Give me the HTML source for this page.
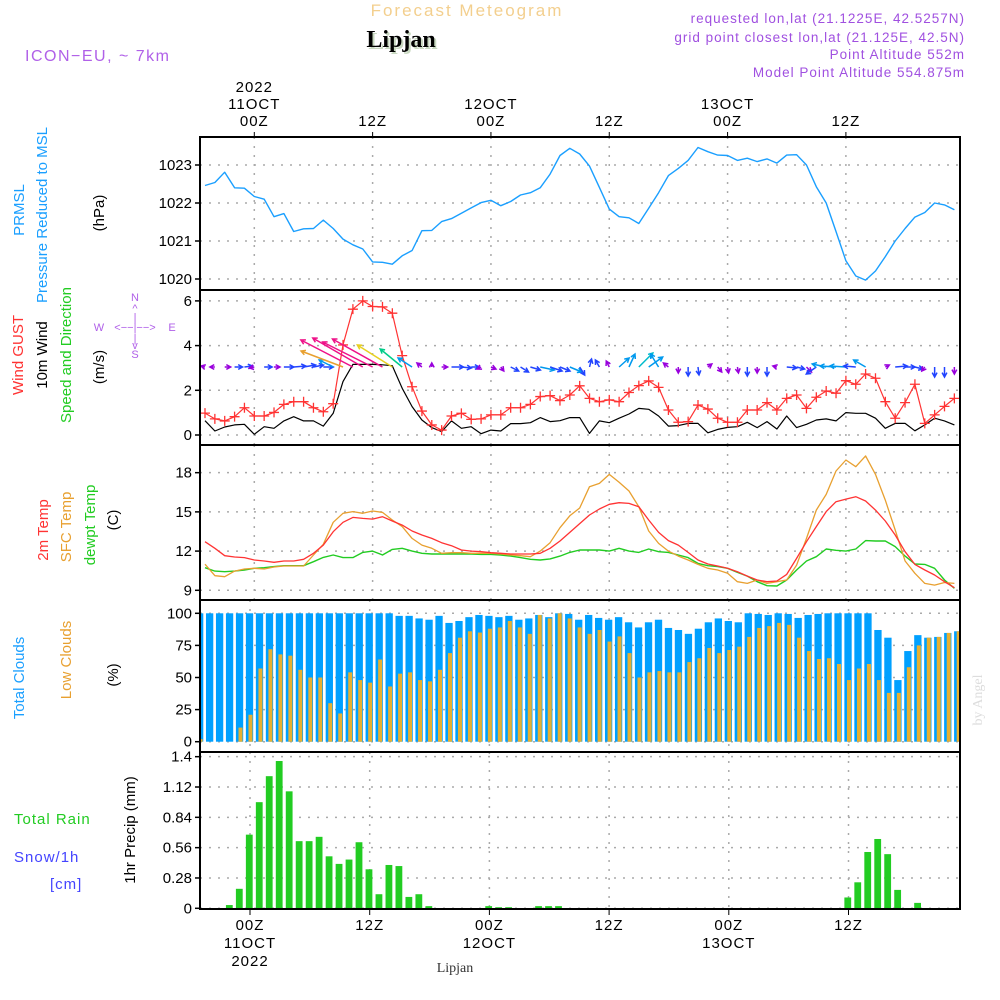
<!DOCTYPE html>
<html><head><meta charset="utf-8"><title>Forecast Meteogram Lipjan</title>
<style>
html,body{margin:0;padding:0;background:#fff;}
svg{display:block;font-family:"Liberation Sans",sans-serif;}
</style></head>
<body>
<svg id="chart" xmlns="http://www.w3.org/2000/svg" width="1000" height="1000" viewBox="0 0 1000 1000">
<rect x="0" y="0" width="1000" height="1000" fill="#fff"/>
<text x="467" y="16" text-anchor="middle" font-size="17" fill="#f3cf8e" letter-spacing="2">Forecast Meteogram</text>
<text x="403" y="49" text-anchor="middle" font-family="Liberation Serif,serif" font-weight="bold" font-size="24" fill="#c8d8c0">Lipjan</text>
<text x="401" y="47" text-anchor="middle" font-family="Liberation Serif,serif" font-weight="bold" font-size="24" fill="#000">Lipjan</text>
<text x="25" y="61" font-size="16" fill="#b060e8" letter-spacing="1.5">ICON−EU, ~ 7km</text>
<g font-size="13.5" fill="#a050e0" text-anchor="end" letter-spacing="1">
<text x="965" y="23">requested lon,lat (21.1225E, 42.5257N)</text>
<text x="965" y="42">grid point closest lon,lat (21.125E, 42.5N)</text>
<text x="965" y="59">Point Altitude 552m</text>
<text x="965" y="77">Model Point Altitude 554.875m</text>
</g>
<g font-size="15">
<text transform="translate(24,210) rotate(-90)" text-anchor="middle" fill="#1a9fff">PRMSL</text>
<text transform="translate(47,215) rotate(-90)" text-anchor="middle" fill="#1a9fff">Pressure Reduced to MSL</text>
<text transform="translate(104,213) rotate(-90)" text-anchor="middle" fill="#000">(hPa)</text>
<text transform="translate(23,355) rotate(-90)" text-anchor="middle" fill="#ff3333">Wind GUST</text>
<text transform="translate(47,355) rotate(-90)" text-anchor="middle" fill="#000">10m Wind</text>
<text transform="translate(71,355) rotate(-90)" text-anchor="middle" fill="#22cc22">Speed and Direction</text>
<text transform="translate(104,367) rotate(-90)" text-anchor="middle" fill="#000">(m/s)</text>
<text transform="translate(48,530) rotate(-90)" text-anchor="middle" fill="#ff3333">2m Temp</text>
<text transform="translate(71,527) rotate(-90)" text-anchor="middle" fill="#e8a030">SFC Temp</text>
<text transform="translate(95,525) rotate(-90)" text-anchor="middle" fill="#22cc22">dewpt Temp</text>
<text transform="translate(118,520) rotate(-90)" text-anchor="middle" fill="#000">(C)</text>
<text transform="translate(24,678) rotate(-90)" text-anchor="middle" fill="#1a9fff">Total Clouds</text>
<text transform="translate(71,660) rotate(-90)" text-anchor="middle" fill="#e8a030">Low Clouds</text>
<text transform="translate(118,675) rotate(-90)" text-anchor="middle" fill="#000">(%)</text>
<text transform="translate(135,830) rotate(-90)" text-anchor="middle" fill="#000">1hr Precip (mm)</text>
</g>
<g font-size="15" letter-spacing="1">
<text x="14" y="824" fill="#22cc22">Total  Rain</text>
<text x="14" y="862" fill="#4444ff">Snow/1h</text>
<text x="50" y="889" fill="#4444ff">[cm]</text>
</g>
<g font-size="11" fill="#b060e8" text-anchor="middle">
<text x="135" y="301">N</text>
<text x="135" y="312">^</text>
<text x="135" y="321">|</text>
<text x="135" y="331">&lt;−−|−−&gt;</text>
<text x="99" y="331">W</text>
<text x="172" y="331">E</text>
<text x="135" y="342">|</text>
<text x="135" y="349">v</text>
<text x="135" y="358">S</text>
</g>
<text transform="translate(982,700) rotate(-90)" text-anchor="middle" font-family="Liberation Serif,serif" font-size="14" fill="#ddd">by Angel</text>
<text x="455" y="972" text-anchor="middle" font-family="Liberation Serif,serif" font-size="14" fill="#333">Lipjan</text>
<g id="plot"></g>
</svg>
<script>
const hours = [];
for (let h = -5; h <= 71; h++) hours.push(h);
const pressure = [1022.46,1022.54,1022.81,1022.40,1022.39,1022.17,1022.10,1021.64,1021.72,1021.25,1021.32,1021.33,1021.55,1021.33,1021.05,1020.90,1020.79,1020.45,1020.44,1020.39,1020.61,1020.75,1021.27,1021.28,1021.51,1021.59,1021.73,1021.87,1022.01,1022.07,1021.93,1022.04,1022.21,1022.27,1022.40,1022.76,1023.25,1023.44,1023.29,
1022.97,1022.41,1021.84,1021.64,1021.61,1021.46,1021.86,1022.27,1022.72,1022.91,1023.12,1023.46,1023.35,1023.26,1023.25,1023.12,1023.18,1023.09,1023.16,1023.05,1023.26,1023.27,1023.00,1022.43,1022.00,1021.25,1020.48,1020.08,1019.97,1020.21,1020.59,1021.00,1021.33,1021.63,1021.75,1022.00,1021.95,1021.82];
const windGust = [0.98,0.72,0.63,0.82,1.22,0.85,0.85,1.01,1.37,1.49,1.49,1.22,1.04,1.40,4.03,5.63,6.0,5.75,5.73,5.45,3.55,2.16,1.07,0.45,0.22,0.85,0.97,0.70,0.72,0.90,0.90,1.22,1.22,1.37,1.72,1.76,1.54,1.79,2.2,
1.64,1.49,1.57,1.49,1.90,2.21,2.42,2.13,1.12,0.57,0.60,1.34,1.16,0.75,0.57,0.57,1.12,1.12,1.45,1.12,1.64,1.79,1.19,1.69,1.97,1.87,2.43,2.27,2.73,2.54,1.49,0.75,1.45,2.27,0.52,0.90,1.28,1.64];
const windSpeed = [0.64,0.18,0.36,0.45,0.48,0.03,0.37,0.30,0.63,0.82,0.63,0.63,0.40,0.97,2.39,3.16,3.16,3.16,3.14,3.10,2.09,1.27,0.67,0.33,0.15,0.63,0.30,0.37,0.06,0.22,0.18,0.51,0.51,0.55,0.78,0.60,0.64,0.78,0.78,
0.07,0.63,0.55,0.75,0.94,1.19,1.15,0.85,0.40,0.42,0.52,0.52,0.10,0.25,0.34,0.37,0.57,0.33,0.60,0.27,0.85,0.33,0.48,0.67,0.72,0.63,1.00,0.97,0.97,0.75,0.30,0.52,0.52,0.19,0.45,0.75,0.63,0.45];
const windU = [-4,-5,6,8,8,-5,8,6,10,12,12,10,10,-14,-42,-52,-50,-50,-50,-35,-22,-14,-5,0,6,12,10,8,-4,5,3,8,8,10,14,12,10,12,5,
2,-4,-3,10,6,14,14,-8,-5,0,0,1,4,4,1,1,0,0,0,-4,10,8,5,-10,-14,-16,-16,-12,-12,0,4,12,10,8,-3,0,0,0];
const windV = [1,0,0,0,1,-1,0,0,0,1,2,2,0,7,16,27,29,25,28,22,18,9,4,4,0,0,-1,0,-2,-2,-4,-4,-5,-3,-3,-4,-4,-5,-8,
8,7,6,9,13,14,10,13,4,-6,-9,-8,3,-5,-6,-6,-9,-6,-9,1,-1,-2,-5,-7,3,1,1,1,7,0,2,1,0,-2,-4,-10,-10,-7];
const temp2m = [12.72,12.21,11.65,11.55,11.50,11.32,11.24,11.14,11.24,11.24,11.37,11.83,12.46,13.48,14.20,14.58,14.50,14.45,14.63,14.30,13.99,13.54,13.23,12.97,12.64,12.41,12.08,12.00,11.95,11.88,11.83,11.78,11.78,11.78,11.83,12.21,12.77,13.43,14.1,
14.76,15.22,15.58,15.70,15.65,15.40,14.38,13.43,12.80,12.46,11.90,11.32,11.01,10.86,10.68,10.42,10.09,9.79,9.66,9.71,10.22,11.44,12.72,13.87,15.02,15.78,15.98,16.16,15.83,15.14,14.30,13.23,11.95,10.98,10.55,10.17,9.66,9.20];
const tempSfc = [11.0,10.12,10.04,10.47,10.63,10.68,10.63,10.78,10.86,10.86,10.86,11.70,12.52,14.20,14.89,15.02,14.89,15.07,14.96,14.38,13.87,12.97,12.46,12.21,11.83,11.88,11.88,11.83,11.83,11.83,11.78,11.70,11.65,11.57,12.0,12.64,13.79,14.7,15.3,
16.93,17.18,17.87,17.26,16.60,15.40,13.54,12.59,12.00,11.62,11.32,10.98,10.68,10.55,10.30,9.66,9.53,9.79,9.53,9.66,9.79,10.93,12.97,15.14,16.34,18.13,18.97,18.46,19.28,17.87,15.90,13.61,11.24,10.30,9.53,9.40,9.60,9.53];
const dewpt = [10.73,10.47,10.42,10.47,10.55,10.68,10.73,10.81,10.88,10.88,10.88,11.19,11.52,11.70,11.50,11.50,11.90,12.00,11.70,12.13,12.21,12.00,11.83,11.78,11.78,11.78,11.78,11.78,11.75,11.75,11.70,11.62,11.50,11.37,11.32,11.40,11.62,11.90,12.08,
12.08,12.08,12.00,12.21,12.00,11.90,12.16,11.95,11.90,11.70,11.50,11.06,10.88,10.81,10.68,10.37,10.09,9.66,9.35,9.33,9.79,10.55,11.24,11.57,12.16,12.06,12.00,12.16,12.80,12.77,12.77,12.34,11.62,11.01,10.98,10.68,9.79,9.15];
const totalClouds = [100,100,100,100,100,100,100,100,100,100,100,100,100,100,100,100,100,100,100,100,98,98,96,95,98,92.5,94,97,98.7,98,97,98,95,96,98.7,97,100,99.5,95,
98.7,96.4,95,97,93,89,93,95,88.6,87,84,88,93,96,94,93,100,99.5,98.7,100,99.5,96.4,98.7,99.5,100,100,100,100,100,87,81,48,70.6,83,81,81.6,84.7,86];
const lowClouds = [2,0,0,0,11,21,57,72,68,67,56,50,50,30,22,54,48,46,64,43,53,54,48,47,56,69,81,86,85,88,89,94,89,84,98.7,96,100,96,89,
84,87,78,82,69,50,54,55,54,54,62,65,73,69,71.4,74,81.6,88.6,90,92.5,91,81,70.6,64.4,65,60.5,48,57,60.5,48,38,38,58,75,81,81.6,84.7,86];
const precip = [0,0,0,0.03,0.18,0.68,0.98,1.22,1.36,1.08,0.62,0.62,0.66,0.48,0.41,0.45,0.61,0.36,0.13,0.40,0.39,0.105,0.13,0.02,0,0,0,0,0,0.02,0.01,0.01,0,0,0.02,0.02,0.02,
0,0,0,0,0,0,0,
0,0,0,0,0,0,0,
0,0,0,0,0,0,0,
0,0,0,0,0,0,0,
0.10,0.24,0.52,0.64,0.50,0.17,0,0.05,0,0,0,0];
const pressureTicks = [1020,1021,1022,1023];
const windTicks = [0,2,4,6];
const tempTicks = [9,12,15,18];
const cloudTicks = [0,25,50,75,100];
const precipTicks = [0,0.28,0.56,0.84,1.12,1.4];
const timeTickHours = [0,12,24,36,48,60];
const timeTickLabels = ["00Z","12Z","00Z","12Z","00Z","12Z"];
const dateLabels = ["11OCT","","12OCT","","13OCT",""];

const NS = "http://www.w3.org/2000/svg";
const X0 = 200, X1 = 960;
const xTop = h => 254.3 + h * 9.86;
const xBot = h => 250 + h * 9.975;
const barLeft = k => 196 + k * 9.975;
const yP = v => 279 - (v - 1020) * 38;
const yW = v => 435 - v * 22.35;
const yT = v => 590.3 - (v - 9) * 13.07;
const yC = v => 741.7 - v * 1.284;
const yR = v => 908.3 - v * 108.3;
const plot = document.getElementById('plot');
function mk(tag, attrs, parent) {
  const e = document.createElementNS(NS, tag);
  for (const k in attrs) e.setAttribute(k, attrs[k]);
  (parent || plot).appendChild(e);
  return e;
}
const panels = [
  {name:'pressure', top:137, bot:290, ticks:pressureTicks, y:yP, xf:xTop},
  {name:'wind', top:290, bot:445, ticks:windTicks, y:yW, xf:xTop},
  {name:'temperature', top:445, bot:600, ticks:tempTicks, y:yT, xf:xTop},
  {name:'clouds', top:600, bot:752, ticks:cloudTicks, y:yC, xf:xBot},
  {name:'precip', top:752, bot:909, ticks:precipTicks, y:yR, xf:xBot}
];
panels.forEach(p => {
  const g = mk('g', {});
  
  
  p.ticks.forEach(t => {
    const yy = p.y(t);
    const gl = mk('line', {x1:X0, x2:X1, y1:yy, y2:yy, stroke:'#aaa', 'stroke-width':1.5, 'stroke-dasharray':'2,7'}, g);
    
    
    mk('line', {x1:X0-5, x2:X0, y1:yy, y2:yy, stroke:'#000', 'stroke-width':1.5}, g);
    const tl = mk('text', {x:192, y:yy+5, 'text-anchor':'end', 'font-size':15, fill:'#000'}, g);
    tl.textContent = String(t);
    
    
  });
  timeTickHours.forEach(h => {
    const xx = p.xf(h);
    const vl = mk('line', {x1:xx, x2:xx, y1:p.top, y2:p.bot, stroke:'#aaa', 'stroke-width':1.5, 'stroke-dasharray':'2,7'}, g);
    
    
  });
});
timeTickHours.forEach((h, i) => {
  const xx = xTop(h);
  mk('line', {x1:xx, x2:xx, y1:132, y2:137, stroke:'#000'});
  const t = mk('text', {x:xx, y:126, 'text-anchor':'middle', 'font-size':15, fill:'#000', 'letter-spacing':1});
  t.textContent = timeTickLabels[i];
  
  
  if (dateLabels[i]) {
    const d = mk('text', {x:xx, y:109, 'text-anchor':'middle', 'font-size':15, fill:'#000', 'letter-spacing':1});
    d.textContent = dateLabels[i];
    
    
  }
  const xb = xBot(h);
  mk('line', {x1:xb, x2:xb, y1:909, y2:915, stroke:'#000'});
  const b = mk('text', {x:xb, y:930, 'text-anchor':'middle', 'font-size':15, fill:'#000', 'letter-spacing':1});
  b.textContent = timeTickLabels[i];
  
  
  if (dateLabels[i]) {
    const d = mk('text', {x:xb, y:948, 'text-anchor':'middle', 'font-size':15, fill:'#000', 'letter-spacing':1});
    d.textContent = dateLabels[i];
    
    
  }
});
const yr1 = mk('text', {x:xTop(0), y:92, 'text-anchor':'middle', 'font-size':15, fill:'#000', 'letter-spacing':1});
yr1.textContent = '2022';


const yr2 = mk('text', {x:xBot(0), y:966, 'text-anchor':'middle', 'font-size':15, fill:'#000', 'letter-spacing':1});
yr2.textContent = '2022';



function line(vals, yf, color, name, width) {
  const pts = vals.map((v, i) => xTop(hours[i]).toFixed(1) + ',' + yf(v).toFixed(1)).join(' ');
  const pl = mk('polyline', {points:pts, fill:'none', stroke:color, 'stroke-width':width || 1.3, 'stroke-linejoin':'round'});
  
  
  return pl;
}
line(pressure, yP, '#1a9fff', 'pressure-line', 1.4);
line(windSpeed, yW, '#000', 'wind-speed-line', 1.2);
line(windGust, yW, '#ff3333', 'wind-gust-line', 1.2);
windGust.forEach((v, i) => {
  const cx = xTop(hours[i]), cy = yW(v);
  const m = mk('path', {d:`M${cx-5},${cy}H${cx+5}M${cx},${cy-5}V${cy+5}`, stroke:'#ff3333', 'stroke-width':1.3});
  
  
});
function arrowColor(L) {
  if (L < 7.5) return '#9900dd';
  if (L < 13) return '#2244ff';
  if (L < 19) return '#0099ee';
  if (L < 21) return '#00bbcc';
  if (L < 32) return '#00cc88';
  if (L < 43) return '#e8d020';
  if (L < 46) return '#e8a030';
  return '#ee1188';
}
windU.forEach((u, i) => {
  const v = windV[i];
  const L = Math.hypot(u, v);
  if (L < 0.5) return;
  const x1 = xTop(hours[i]), y1 = 367;
  const x2 = x1 + u, y2 = y1 - v;
  const ang = Math.atan2(y2 - y1, x2 - x1);
  const hl = 5;
  const a1x = x2 - hl * Math.cos(ang - 0.5), a1y = y2 - hl * Math.sin(ang - 0.5);
  const a2x = x2 - hl * Math.cos(ang + 0.5), a2y = y2 - hl * Math.sin(ang + 0.5);
  const a = mk('path', {d:`M${x1},${y1}L${x2},${y2}M${a1x},${a1y}L${x2},${y2}L${a2x},${a2y}`, stroke:arrowColor(L), 'stroke-width':1.5, fill:'none'});
  
  
});
line(dewpt, yT, '#22cc22', 'dewpoint-line', 1.4);
line(tempSfc, yT, '#e8a030', 'sfc-temp-line', 1.3);
line(temp2m, yT, '#ff3333', '2m-temp-line', 1.3);
totalClouds.forEach((v, k) => {
  let l = barLeft(k), r = l + 7.3;
  if (l < X0) l = X0;
  if (r > X1) r = X1;
  if (r <= l) return;
  const b = mk('rect', {x:l, y:yC(v), width:r - l, height:yC(0) - yC(v), fill:'#00a0ff'});
  
  
});
lowClouds.forEach((v, k) => {
  let l = barLeft(k) + 2.6, r = l + 4;
  if (l < X0) l = X0;
  if (r > X1) r = X1;
  if (r <= l || v <= 0) return;
  const b = mk('rect', {x:l, y:yC(v), width:r - l, height:yC(0) - yC(v), fill:'#e8b030'});
  
  
});
precip.forEach((v, k) => {
  if (v <= 0) return;
  const l = barLeft(k);
  const b = mk('rect', {x:l, y:yR(v), width:6.8, height:yR(0) - yR(v), fill:'#22cc22'});
  
  
});
panels.forEach(p => {
  const f = mk('rect', {x:X0, y:p.top, width:X1 - X0, height:p.bot - p.top, fill:'none', stroke:'#000', 'stroke-width':2});
  
  
});
</script>
</body></html>
